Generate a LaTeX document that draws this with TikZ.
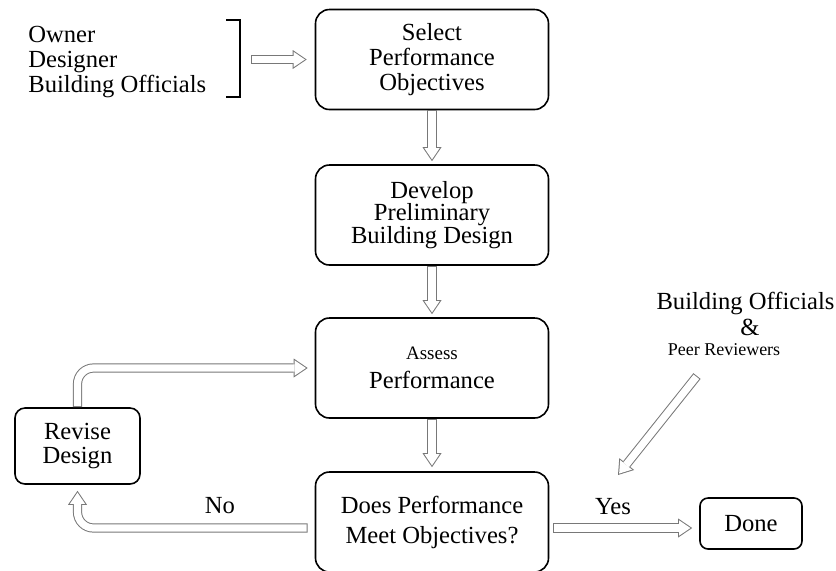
\documentclass[tikz,border=0pt]{standalone}
\usepackage{fontspec}
\setmainfont{Liberation Serif}
\usetikzlibrary{arrows.meta}
\definecolor{arrgray}{RGB}{120,120,120}

\begin{document}
\begin{tikzpicture}[x=0.5pt,y=-0.5pt,font=\fontsize{12.3}{12.3}\selectfont,
  box/.style={draw,line width=0.8pt,rounded corners=7pt,align=center,
    minimum width=116.5pt,minimum height=50pt},
  hollow/.style 2 args={draw=arrgray,line width=4.6pt,shorten <=#1,shorten >=#2,
    -{Triangle[length=7pt,width=9.5pt,line width=0pt]},
    postaction={draw=white,line width=3.6pt,shorten <=#1+0.5pt,shorten >=#2+0.9pt,
      -{Triangle[length=5.6pt,width=7.6pt,line width=0pt]}}}]
\useasboundingbox (0,0) rectangle (836,570);
\node[box] (sel) at (432,59.5) {Select\\Performance\\Objectives};
\node[box] (dev) at (432,215) {Develop\\[-1pt]Preliminary\\[-1pt]Building Design};
\node[box] (ass) at (432,368) {{\fontsize{9.5}{11}\selectfont Assess}\\[2pt]Performance};
\node[box] (does) at (432,522) {Does Performance\\[2.7pt]Meet Objectives?};
\node[box,minimum width=62.5pt,minimum height=38pt,rounded corners=5pt] (rev) at (77.5,446) {Revise\\Design};
\node[box,minimum width=51pt,minimum height=25.5pt,rounded corners=4pt] (done) at (751,523.5) {Done};
\node[anchor=west,align=left,inner sep=0pt] (parties) at (28,62) {Owner\\Designer\\Building Officials};
\draw[line width=0.8pt] (226,20) -- (240,20) -- (240,97) -- (226,97);
\coordinate (brk) at (251,59.5);
\node (bo) at (745.5,303) {Building Officials};
\node (amp) at (750,327) {\&};
\node[font=\fontsize{9}{10}\selectfont] (peer) at (724,350) {Peer Reviewers};
\coordinate (peer-tail) at (697,376);
\coordinate (peer-tip) at (618,475);
\node (no) at (220,506) {No};
\node (yes) at (613,507) {Yes};
\draw[hollow={0pt}{4pt}] (brk) -- (sel.west);
\draw[hollow={0pt}{1.5pt}] (sel.south) -- (dev.north);
\draw[hollow={0pt}{1.5pt}] (dev.south) -- (ass.north);
\draw[hollow={0pt}{2pt}] (ass.south) -- (does.north);
\draw[hollow={0pt}{3.5pt},rounded corners=8pt] (rev.north) |- (ass.west);
\draw[hollow={3.5pt}{3pt},rounded corners=8pt] ([yshift=-3pt]does.west) -| (rev.south);
\draw[hollow={2pt}{3.5pt}] ([yshift=-3pt]does.east) -- ([yshift=-3pt]does.east -| done.west);
\draw[hollow={0pt}{0pt}] (peer-tail) -- (peer-tip);
\end{tikzpicture}
\end{document}
